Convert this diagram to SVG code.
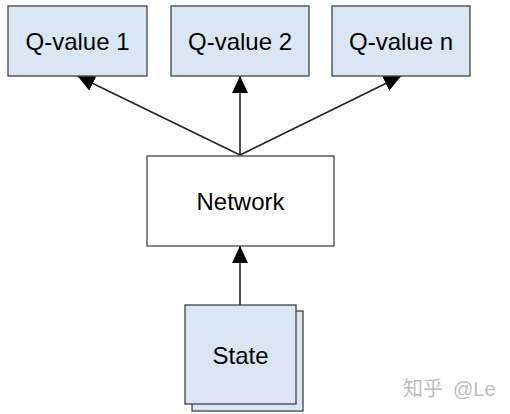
<svg xmlns="http://www.w3.org/2000/svg" width="510" height="414" viewBox="0 0 510 414">
<style>
.box{fill:#dae6f3;stroke:#444;stroke-width:1.3}
.net{fill:#fff;stroke:#444;stroke-width:1.3}
.lbl{font-family:"Liberation Sans",Arial,sans-serif;font-size:24px;fill:#000;text-anchor:middle}
.edge{stroke:#222;stroke-width:1.6;fill:none;marker-end:url(#ah)}
.wm{font-family:"Liberation Sans","Noto Sans CJK SC",sans-serif;font-size:20px;fill:#bdbdbd}
</style>
<defs>
<marker id="ah" viewBox="0 0 17 16" refX="17" refY="8" markerWidth="17" markerHeight="16" markerUnits="userSpaceOnUse" orient="auto">
<path d="M0,0 L17,8 L0,16 z" fill="#000"/>
</marker>
</defs>
<rect width="510" height="414" fill="#fff"/>
<g id="connectors">
<line class="edge" x1="240" y1="155" x2="77.5" y2="76"/>
<line class="edge" x1="240" y1="155" x2="240" y2="76"/>
<line class="edge" x1="240" y1="155" x2="401" y2="76"/>
<line class="edge" x1="240" y1="305" x2="240" y2="246"/>
</g>
<g id="q1"><rect class="box" x="8" y="6" width="139" height="70"/><text class="lbl" x="77.5" y="50">Q-value 1</text></g>
<g id="q2"><rect class="box" x="171" y="6" width="138" height="70"/><text class="lbl" x="240" y="50">Q-value 2</text></g>
<g id="qn"><rect class="box" x="332" y="6" width="138" height="70"/><text class="lbl" x="401" y="50">Q-value n</text></g>
<g id="network"><rect class="net" x="147" y="156" width="187" height="90"/><text class="lbl" x="240.5" y="210">Network</text></g>
<g id="state">
<rect class="box" x="192" y="311" width="111" height="100"/>
<rect class="box" x="185" y="305" width="111" height="99"/>
<text class="lbl" x="240.5" y="364">State</text>
</g>
<text class="wm" y="396"><tspan x="403">知乎</tspan><tspan x="453">@Le</tspan></text>
</svg>
